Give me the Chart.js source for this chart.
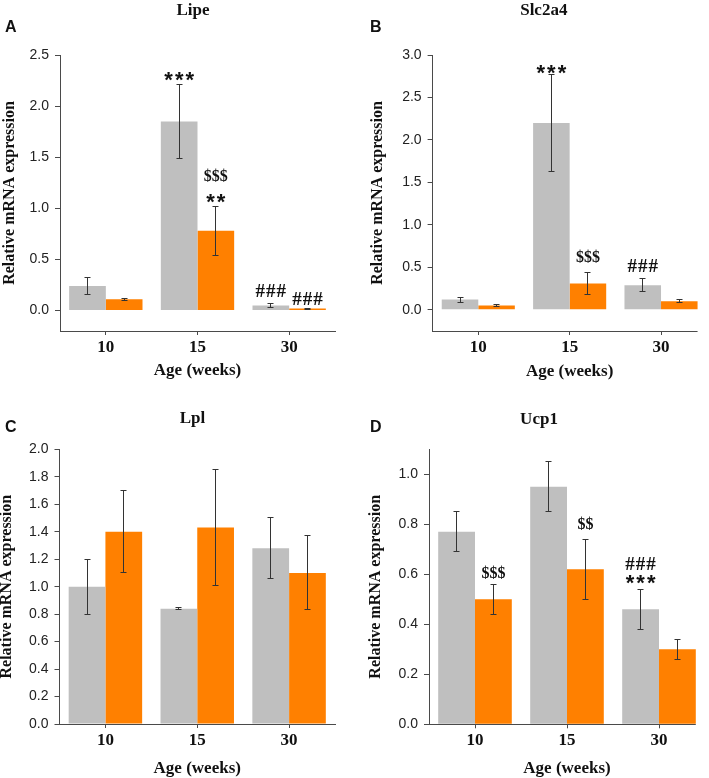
<!DOCTYPE html>
<html><head><meta charset="utf-8">
<script src="https://cdn.jsdelivr.net/npm/chart.js@4.4.0/dist/chart.umd.min.js"></script>
<style>
html,body{margin:0;padding:0;background:#fff;}
#wrap{position:relative;width:709px;height:778px;overflow:hidden;background:#fff;}
canvas{position:absolute;}
</style></head>
<body><div id="wrap">
<canvas id="cA" width="354" height="389" style="left:0px;top:0px"></canvas>
<canvas id="cB" width="354" height="389" style="left:355px;top:0px"></canvas>
<canvas id="cC" width="354" height="389" style="left:0px;top:389px"></canvas>
<canvas id="cD" width="354" height="389" style="left:355px;top:389px"></canvas>
</div>
<script>
// ---------------- DATA ----------------
const categories = ['10', '15', '30'];
const yAxisTitle = 'Relative mRNA expression';
const xAxisTitle = 'Age (weeks)';

// A - Lipe
const lipeGray      = [0.24, 1.85, 0.05];
const lipeGrayErr   = [0.08, 0.36, 0.02];
const lipeOrange    = [0.11, 0.78, 0.02];
const lipeOrangeErr = [0.01, 0.24, 0.005];
const lipeYTicks    = [0, 0.5, 1.0, 1.5, 2.0, 2.5];
const lipeMarks     = [[0, 1, ['***']], [1, 1, ['$$$', '**']], [0, 2, ['###']], [1, 2, ['###']]];

// B - Slc2a4
const slcGray      = [0.12, 2.20, 0.29];
const slcGrayErr   = [0.03, 0.57, 0.08];
const slcOrange    = [0.05, 0.31, 0.10];
const slcOrangeErr = [0.01, 0.13, 0.02];
const slcYTicks    = [0, 0.5, 1.0, 1.5, 2.0, 2.5, 3.0];
const slcMarks     = [[0, 1, ['***']], [1, 1, ['$$$']], [0, 2, ['###']]];

// C - Lpl
const lplGray      = [1.00, 0.84, 1.28];
const lplGrayErr   = [0.20, 0.01, 0.22];
const lplOrange    = [1.40, 1.43, 1.10];
const lplOrangeErr = [0.30, 0.42, 0.27];
const lplYTicks    = [0, 0.2, 0.4, 0.6, 0.8, 1.0, 1.2, 1.4, 1.6, 1.8, 2.0];
const lplMarks     = [];

// D - Ucp1
const ucpGray      = [0.77, 0.95, 0.46];
const ucpGrayErr   = [0.08, 0.10, 0.08];
const ucpOrange    = [0.50, 0.62, 0.30];
const ucpOrangeErr = [0.06, 0.12, 0.04];
const ucpYTicks    = [0, 0.2, 0.4, 0.6, 0.8, 1.0];
const ucpMarks     = [[1, 0, ['$$$']], [1, 1, ['$$']], [0, 2, ['###', '***']]];

// ---------------- STYLE / LAYOUT ----------------
const GRAY = '#BFBFBF';
const ORANGE = '#FF8000';
const AXIS = '#4a4a4a';
const SERIF = '"Liberation Serif", "Times New Roman", serif';
const SANS = '"Liberation Sans", Arial, sans-serif';

const panels = [
  { id: 'cA', letter: 'A', title: 'Lipe', gray: lipeGray, grayErr: lipeGrayErr, orange: lipeOrange, orangeErr: lipeOrangeErr, yTicks: lipeYTicks, marks: lipeMarks, yMin: -0.2, yMax: 2.5,
    s: { yW: 60, top: 55, padRight: 19, xH: 58, yTitlePad: 0, xTitlePad: 7.8, titleX: 193, titleY: 15, letterX: 5, letterY: 31.5, axisToLastBar: false,
         markBottoms: [[-3.3], [-24, -3.4], [-6], [-3.3]] } },
  { id: 'cB', letter: 'B', title: 'Slc2a4', gray: slcGray, grayErr: slcGrayErr, orange: slcOrange, orangeErr: slcOrangeErr, yTicks: slcYTicks, marks: slcMarks, yMin: -0.25, yMax: 3.0,
    s: { yW: 77.6, top: 55, padRight: 2.3, xH: 58, yTitlePad: 12.9, xTitlePad: 7.5, titleX: 188.8, titleY: 15, letterX: 15, letterY: 31.5, axisToLastBar: true,
         markBottoms: [[-1], [-9.4], [-6.6]] } },
  { id: 'cC', letter: 'C', title: 'Lpl', gray: lplGray, grayErr: lplGrayErr, orange: lplOrange, orangeErr: lplOrangeErr, yTicks: lplYTicks, marks: lplMarks, yMin: 0, yMax: 2.0,
    s: { yW: 59.5, top: 60.3, padRight: 19, xH: 54, yTitlePad: -2.4, xTitlePad: -0.8, titleX: 192.5, titleY: 34.3, letterX: 5, letterY: 42.7, axisToLastBar: false,
         markBottoms: [] } },
  { id: 'cD', letter: 'D', title: 'Ucp1', gray: ucpGray, grayErr: ucpGrayErr, orange: ucpOrange, orangeErr: ucpOrangeErr, yTicks: ucpYTicks, marks: ucpMarks, yMin: 0, yMax: 1.1,
    s: { yW: 74, top: 60.3, padRight: 4, xH: 53.7, yTitlePad: 11.2, xTitlePad: -0.8, titleX: 184, titleY: 35.3, letterX: 15, letterY: 42.7, axisToLastBar: true,
         markBottoms: [[-5.7], [-9.7], [-19, -5.7]] } }
];

function markStyle(txt) {
  if (txt.indexOf('*') >= 0) return { font: 'bold 22px ' + SANS, ls: 2 };
  if (txt.indexOf('#') >= 0) return { font: 'bold 19px ' + SERIF, ls: 1 };
  return { font: 'bold 16px ' + SERIF, ls: 0 };
}

function alignPx(v) { return Math.round(v - 0.5) + 0.5; }

function makeDecor(p) {
  const s = p.s;
  return {
    id: 'decor' + p.letter,
    afterDatasetsDraw(chart) {
      const c = chart.ctx, ys = chart.scales.y, area = chart.chartArea;
      c.save();
      // error bars
      const series = [[p.gray, p.grayErr], [p.orange, p.orangeErr]];
      series.forEach(([vals, errs], di) => {
        chart.getDatasetMeta(di).data.forEach((bar, i) => {
          const x = alignPx(bar.x);
          const t = alignPx(ys.getPixelForValue(vals[i] + errs[i]));
          const b = alignPx(ys.getPixelForValue(vals[i] - errs[i]));
          c.strokeStyle = '#333';
          c.lineWidth = 1;
          c.beginPath();
          c.moveTo(x, t); c.lineTo(x, b);
          c.moveTo(x - 3, t); c.lineTo(x + 3, t);
          c.moveTo(x - 3, b); c.lineTo(x + 3, b);
          c.stroke();
        });
      });
      // x axis line ending at last bar edge
      if (s.axisToLastBar) {
        const metaO = chart.getDatasetMeta(1).data;
        const last = metaO[metaO.length - 1];
        const yLine = alignPx(area.bottom);
        c.strokeStyle = AXIS; c.lineWidth = 1;
        c.beginPath();
        c.moveTo(area.left, yLine);
        c.lineTo(last.x + last.width / 2, yLine);
        c.stroke();
      }
      // significance marks
      p.marks.forEach((m, k) => {
        const [di, i, lines] = m;
        const bar = chart.getDatasetMeta(di).data[i];
        const vals = di === 0 ? p.gray : p.orange;
        const errs = di === 0 ? p.grayErr : p.orangeErr;
        const top = ys.getPixelForValue(vals[i] + errs[i]);
        lines.forEach((txt, li) => {
          const st = markStyle(txt);
          c.font = st.font;
          c.letterSpacing = st.ls + 'px';
          c.textAlign = 'center';
          c.textBaseline = 'alphabetic';
          c.fillStyle = '#111';
          const mt = c.measureText(txt);
          const bottom = top + s.markBottoms[k][li];
          c.fillText(txt, bar.x + st.ls / 2, bottom - mt.actualBoundingBoxDescent);
        });
      });
      c.letterSpacing = '0px';
      // gene title
      c.font = 'bold 17px ' + SERIF;
      c.fillStyle = '#111';
      c.textAlign = 'center';
      c.textBaseline = 'alphabetic';
      c.fillText(p.title, s.titleX, s.titleY);
      // panel letter
      c.font = 'bold 16px ' + SANS;
      c.textAlign = 'left';
      c.fillText(p.letter, s.letterX, s.letterY);
      c.restore();
    }
  };
}

function build(p) {
  const s = p.s;
  const barCommon = { borderWidth: 0, categoryPercentage: 0.8, barPercentage: 1.0 };
  return new Chart(document.getElementById(p.id), {
    type: 'bar',
    data: {
      labels: categories,
      datasets: [
        Object.assign({ data: p.gray, backgroundColor: GRAY }, barCommon),
        Object.assign({ data: p.orange, backgroundColor: ORANGE }, barCommon)
      ]
    },
    options: {
      responsive: false,
      animation: false,
      events: [],
      layout: { padding: { left: 0, top: s.top, right: s.padRight, bottom: 0 } },
      plugins: { legend: { display: false }, tooltip: { enabled: false }, title: { display: false } },
      scales: {
        x: {
          offset: true,
          grid: { display: true, drawOnChartArea: false, drawTicks: true, tickLength: 4, offset: false, color: AXIS },
          border: { display: !s.axisToLastBar, color: AXIS, width: 1 },
          ticks: { color: '#111', padding: 2, font: { family: SERIF, size: 17, weight: 'bold' }, maxRotation: 0 },
          title: { display: true, text: xAxisTitle, color: '#111', font: { family: SERIF, size: 17, weight: 'bold' }, padding: { top: 0, bottom: s.xTitlePad } },
          afterFit: sc => { sc.height = s.xH; }
        },
        y: {
          min: p.yMin,
          max: p.yMax,
          grid: { display: true, drawOnChartArea: false, drawTicks: true, tickLength: 5, color: AXIS },
          border: { display: true, color: AXIS, width: 1 },
          ticks: { color: '#222', padding: 6, font: { family: SANS, size: 14 }, callback: v => Number(v).toFixed(1) },
          afterBuildTicks: sc => { sc.ticks = p.yTicks.map(v => ({ value: v })); },
          title: { display: true, text: yAxisTitle, color: '#111', font: { family: SERIF, size: 16, weight: 'bold' }, padding: { top: s.yTitlePad, bottom: 0 } },
          afterFit: sc => { sc.width = s.yW; }
        }
      }
    },
    plugins: [makeDecor(p)]
  });
}

panels.forEach(build);
</script>
</body></html>
